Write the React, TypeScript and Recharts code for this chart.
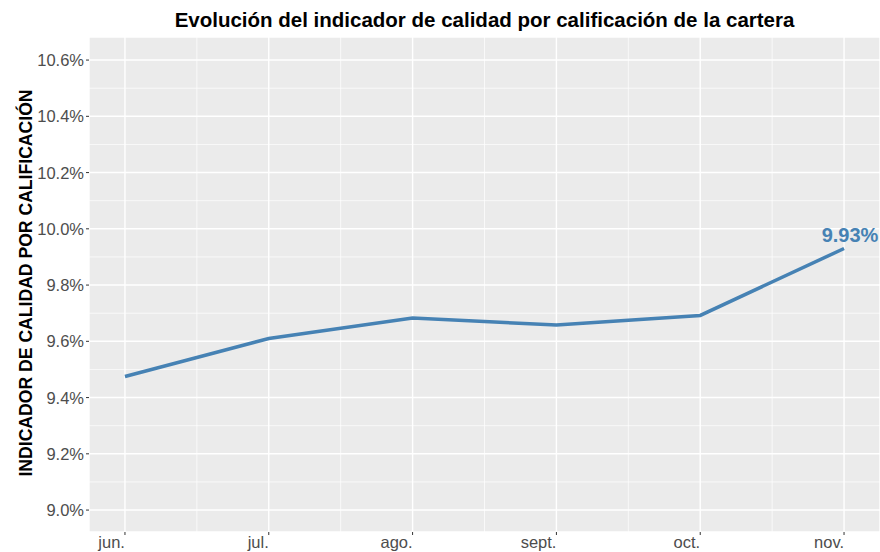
import { LineChart, Line, XAxis, YAxis, CartesianGrid, ReferenceLine } from "recharts";

const months = ["jun.", "jul.", "ago.", "sept.", "oct.", "nov."];
const indicador = [9.475, 9.61, 9.683, 9.658, 9.692, 9.93];
const yTicks = [9.0, 9.2, 9.4, 9.6, 9.8, 10.0, 10.2, 10.4, 10.6];
const yMinor = [9.1, 9.3, 9.5, 9.7, 9.9, 10.1, 10.3, 10.5];
const xMinor = [0.5, 1.5, 2.5, 3.5, 4.5];

const data = months.map((m, i) => ({ i, mes: m, valor: indicador[i] }));

const FONT = "'Liberation Sans', Arial, Helvetica, sans-serif";
const LINE = "#4682B4";

function XTick({ x, y, payload }: any) {
  return (
    <text x={x} y={y + 11} textAnchor="end" fill="#4d4d4d" fontSize={16.5} fontFamily={FONT}>
      {months[payload.value]}
    </text>
  );
}

function YTick({ x, y, payload }: any) {
  return (
    <text x={x} y={y + 6} textAnchor="end" fill="#4d4d4d" fontSize={16.5} fontFamily={FONT}>
      {payload.value.toFixed(1)}%
    </text>
  );
}

function LastLabel({ x, y, index, value }: any) {
  if (index !== indicador.length - 1) return null;
  return (
    <text x={x + 6} y={y - 7} textAnchor="middle" fill={LINE} fontSize={20} fontWeight="bold" fontFamily={FONT}>
      {value.toFixed(2)}%
    </text>
  );
}

function YLabel() {
  return (
    <text
      x={32}
      y={283}
      transform="rotate(-90 32 283)"
      textAnchor="middle"
      fill="#000"
      fontSize={17.6}
      fontWeight="bold"
      fontFamily={FONT}
    >
      INDICADOR DE CALIDAD POR CALIFICACIÓN
    </text>
  );
}

export default function App() {
  return (
    <div style={{ position: "absolute", left: 0, top: 0, width: 880, height: 552, background: "#fff", fontFamily: FONT }}>
      <div
        style={{
          position: "absolute",
          left: 89,
          width: 791,
          top: 8,
          lineHeight: "24px",
          textAlign: "center",
          fontSize: 20.5,
          fontWeight: "bold",
          color: "#000",
        }}
      >
        Evolución del indicador de calidad por calificación de la cartera
      </div>
      <LineChart width={880} height={552} data={data} margin={{ top: 37, right: 0, bottom: 0, left: 0 }}>
        <CartesianGrid fill="#EBEBEB" stroke="#ffffff" strokeWidth={1.4} />
        {xMinor.map((v) => (
          <ReferenceLine key={"x" + v} x={v} stroke="#ffffff" strokeWidth={0.7} />
        ))}
        {yMinor.map((v) => (
          <ReferenceLine key={"y" + v} y={v} stroke="#ffffff" strokeWidth={0.7} />
        ))}
        <XAxis
          dataKey="i"
          type="number"
          domain={[-0.25, 5.25]}
          ticks={[0, 1, 2, 3, 4, 5]}
          allowDataOverflow
          axisLine={false}
          tickLine={{ stroke: "#333333" }}
          tickSize={3}
          tick={<XTick />}
          height={20}
        />
        <YAxis
          type="number"
          domain={[8.922, 10.682]}
          ticks={yTicks}
          allowDataOverflow
          axisLine={false}
          tickLine={{ stroke: "#333333" }}
          tickSize={3}
          tick={<YTick />}
          width={89}
          label={<YLabel />}
        />
        <Line
          type="linear"
          dataKey="valor"
          stroke={LINE}
          strokeWidth={3.5}
          dot={false}
          activeDot={false}
          isAnimationActive={false}
          label={<LastLabel />}
        />
      </LineChart>
    </div>
  );
}
